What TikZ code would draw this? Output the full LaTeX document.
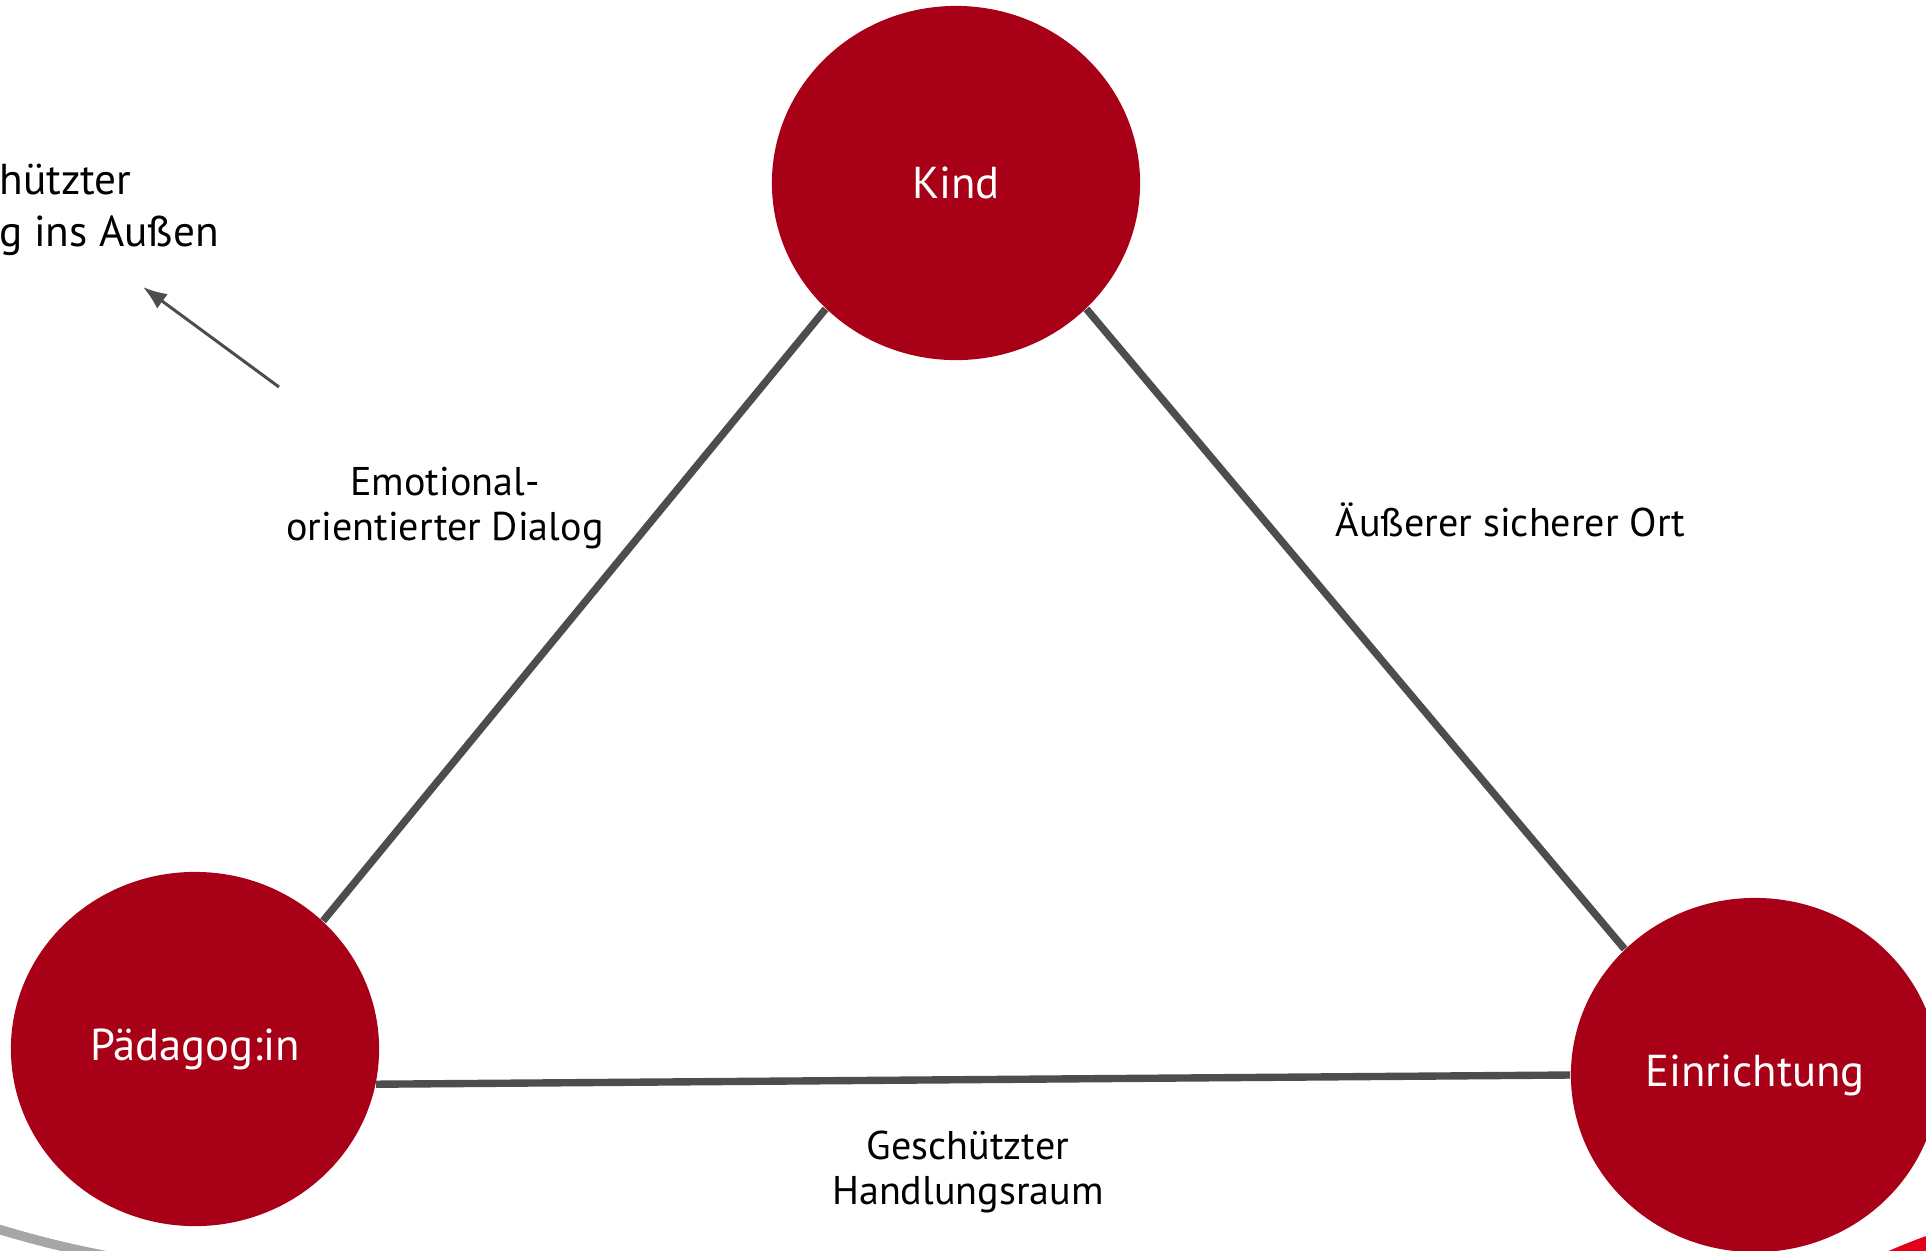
\documentclass[tikz,border=0pt]{standalone}
\usepackage{fontspec}
\setmainfont{PT Sans}
\usetikzlibrary{
    arrows.meta,
    positioning,
    shapes.geometric
}
\definecolor{dunkelrot}{HTML}{A80016}
\definecolor{hellrot}{HTML}{E2001A}
\definecolor{kantengrau}{HTML}{4D4D4D}

\begin{document}
\begin{tikzpicture}[
    x=0.01cm,
    y=-0.01cm,
    >=Latex,
    akteur/.style={
        ellipse,
        fill=dunkelrot,
        text=white,
        minimum width=3.68cm,
        minimum height=3.54cm,
        inner sep=0pt,
        font=\fontsize{12.7}{15}\selectfont
    },
    kante/.style={
        draw=kantengrau,
        line width=2.1pt
    },
    beschriftung/.style={
        align=center,
        font=\fontsize{11.4}{12.8}\selectfont
    }
]
\useasboundingbox (0,0) rectangle (1926,1250);
\clip (0,0) rectangle (1926,1250);

% swooshes at the bottom edge
\draw[line width=2.7pt,gray!70,line cap=round] (-40,1217) to[bend right=4] (140,1262);
\draw[line width=4pt,hellrot] (1860,1272) to[bend left=4] (1960,1232);

%--------------------------------------------------
\node[akteur] (kind) at (956,183)
{
Kind
};

\node[akteur] (paed) at (195,1049)
{
Pädagog:in
};

\node[akteur] (einr) at (1755,1075)
{
Einrichtung
};

% labels
\node[beschriftung] (dialog) at (445,508)
{
Emotional-\\
orientierter Dialog
};

\node[beschriftung] (ort) at (1516,520)
{
Äußerer sicherer Ort
};

\node[beschriftung] (raum) at (968,1172)
{
Geschützter\\
Handlungsraum
};

\node[beschriftung,align=left,anchor=west,font=\fontsize{12.3}{14.8}\selectfont] (aussen) at (-13,210)
{
hützter\\
g ins Außen
};

\coordinate (pfeilstart) at (279,387);
\coordinate (pfeilziel) at (143,287);

%--------------------------------------------------
\draw[kante] (kind.224) -- (paed.45);
\draw[kante] (kind.316) -- (einr.136);
\draw[kante] (paed.349) -- (einr.180);

\draw[->,draw=kantengrau,line width=0.85pt] (pfeilstart) -- (pfeilziel);

\end{tikzpicture}
\end{document}
